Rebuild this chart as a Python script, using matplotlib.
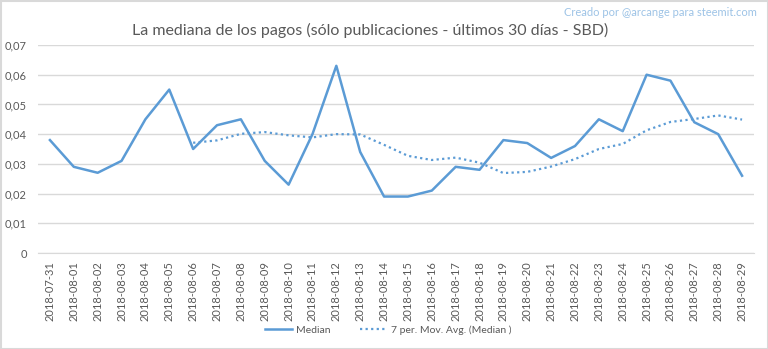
import matplotlib.pyplot as plt
from matplotlib.patches import Rectangle
from matplotlib.ticker import FuncFormatter

# fechas y valores (SBD)
fechas = ['2018-07-31', '2018-08-01', '2018-08-02', '2018-08-03', '2018-08-04',
          '2018-08-05', '2018-08-06', '2018-08-07', '2018-08-08', '2018-08-09',
          '2018-08-10', '2018-08-11', '2018-08-12', '2018-08-13', '2018-08-14',
          '2018-08-15', '2018-08-16', '2018-08-17', '2018-08-18', '2018-08-19',
          '2018-08-20', '2018-08-21', '2018-08-22', '2018-08-23', '2018-08-24',
          '2018-08-25', '2018-08-26', '2018-08-27', '2018-08-28', '2018-08-29']
mediana = [0.038, 0.029, 0.027, 0.031, 0.045, 0.055, 0.035, 0.043, 0.045, 0.031,
           0.023, 0.040, 0.063, 0.034, 0.019, 0.019, 0.021, 0.029, 0.028, 0.038,
           0.037, 0.032, 0.036, 0.045, 0.041, 0.060, 0.058, 0.044, 0.040, 0.026]
# media movil de 7 periodos (empieza el 08-06)
media_movil = [None] * 6 + [0.0371, 0.0379, 0.0401, 0.0407, 0.0396, 0.0389, 0.0400,
                            0.0399, 0.0364, 0.0327, 0.0313, 0.0321, 0.0304, 0.0269,
                            0.0273, 0.0291, 0.0316, 0.0350, 0.0367, 0.0413, 0.0441,
                            0.0451, 0.0463, 0.0449]

azul = '#5B9BD5'
gris = '#595959'
plt.rcParams['font.family'] = ['Lato', 'DejaVu Sans']

fig = plt.figure(figsize=(7.68, 3.49), dpi=100)
ax = fig.add_axes([38 / 768, 1 - 253 / 349, 716 / 768, 208 / 349])

x = list(range(len(fechas)))
ax.plot(x, mediana, color=azul, lw=1.8, label='Median')
xm = [i for i, v in enumerate(media_movil) if v is not None]
ym = [v for v in media_movil if v is not None]
ax.plot(xm, ym, color=azul, lw=1.6, ls=(0, (1, 1.5)), label='7 per. Mov. Avg. (Median )')

ax.set_xlim(-0.5, len(fechas) - 0.5)
ax.set_ylim(0, 0.07)
ax.set_yticks([i / 100 for i in range(8)])
ax.yaxis.set_major_formatter(FuncFormatter(lambda v, p: '0' if v == 0 else f'{v:.2f}'.replace('.', ',')))
ax.set_xticks(x)
ax.set_xticklabels(fechas, rotation=90)
ax.tick_params(axis='both', length=0, labelsize=8, colors=gris)
ax.tick_params(axis='y', pad=8)
ax.tick_params(axis='x', pad=6)
ax.grid(axis='y', color='#d9d9d9', lw=1)
ax.set_axisbelow(True)
for s in ['top', 'right', 'left']:
    ax.spines[s].set_visible(False)
ax.spines['bottom'].set_color('#d9d9d9')

fig.text(370 / 768, 1 - 30 / 349, 'La mediana de los pagos (sólo publicaciones - últimos 30 días - SBD)',
         ha='center', va='center', fontsize=11.5, color=gris)
fig.text(757 / 768, 1 - 13 / 349, 'Creado por @arcange para steemit.com',
         ha='right', va='center', fontsize=8, color='#9dc3e6')

fig.legend(loc='center', bbox_to_anchor=(388 / 768, 1 - 330 / 349), ncol=2, frameon=False,
           fontsize=7.5, labelcolor=gris, handlelength=2.6, columnspacing=2.8, handletextpad=0.4)

fig.patches.append(Rectangle((0.5 / 768, 0.5 / 349), 1 - 1 / 768, 1 - 1 / 349, transform=fig.transFigure,
                             fill=False, edgecolor='#d9d9d9', lw=1.5))

fig.savefig('out.png', dpi=100, facecolor='white')
